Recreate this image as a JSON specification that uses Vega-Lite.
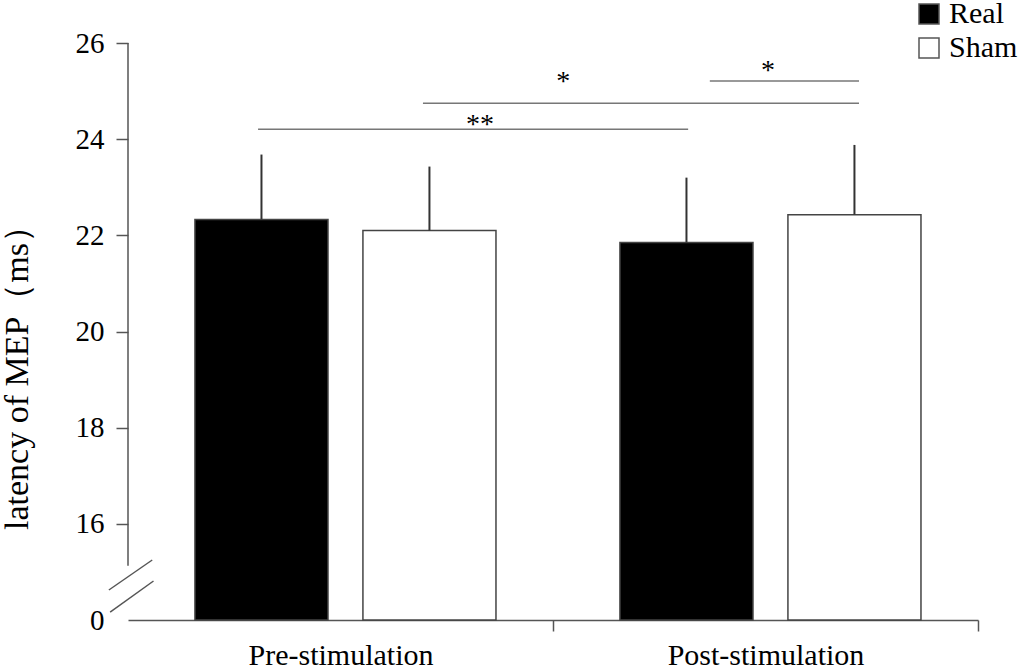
{
  "$schema": "https://vega.github.io/schema/vega-lite/v6.json",
  "width": 850,
  "height": 577,
  "autosize": {"type": "none"},
  "padding": {"left": 128, "top": 43, "right": 43, "bottom": 45},
  "config": {"font": "Liberation Serif", "view": {"stroke": null}},
  "datasets": {
    "bars": [
      {"group": "Pre-stimulation", "condition": "Real", "latency": 22.33, "upper": 23.68},
      {"group": "Pre-stimulation", "condition": "Sham", "latency": 22.1, "upper": 23.43},
      {"group": "Post-stimulation", "condition": "Real", "latency": 21.85, "upper": 23.2},
      {"group": "Post-stimulation", "condition": "Sham", "latency": 22.43, "upper": 23.88}
    ],
    "sigLines": [
      {"from": 0.306, "to": 1.318, "level": 24.205},
      {"from": 0.694, "to": 1.72, "level": 24.746},
      {"from": 1.369, "to": 1.72, "level": 25.21}
    ],
    "sigText": [
      {"pos": 0.828, "level": 24.13, "mark": "**"},
      {"pos": 1.024, "level": 25.02, "mark": "*"},
      {"pos": 1.506, "level": 25.25, "mark": "*"}
    ],
    "axisLine": [
      {"pos": 0, "from": 15.13, "to": 26}
    ],
    "breaks": [
      {"x1": -0.045, "x2": 0.057, "y1": 14.624, "y2": 15.248},
      {"x1": -0.042, "x2": 0.06, "y1": 14.166, "y2": 14.811}
    ]
  },
  "layer": [
    {
      "data": {"name": "bars"},
      "layer": [
        {
          "mark": {"type": "bar", "stroke": "#444444", "strokeWidth": 1.5},
          "encoding": {
            "x": {
              "field": "group", "type": "nominal",
              "sort": ["Pre-stimulation", "Post-stimulation"],
              "scale": {"paddingInner": 0, "paddingOuter": 0},
              "title": null,
              "axis": {
                "labelAngle": 0, "labelFontSize": 30, "labelColor": "#000000", "labelPadding": 9,
                "labelLimit": 0,
                "tickSize": 11, "tickBand": "extent",
                "tickColor": "#555555", "tickWidth": 1.5,
                "tickOpacity": {"condition": {"test": "isValid(datum.extra) || !isValid(datum.value)", "value": 0}, "value": 1},
                "domainColor": "#555555", "domainWidth": 1.5
              }
            },
            "xOffset": {
              "field": "condition", "type": "nominal", "sort": ["Real", "Sham"],
              "scale": {"paddingInner": 0.208, "paddingOuter": 0.369, "align": 0.54}
            },
            "y": {
              "field": "latency", "type": "quantitative",
              "scale": {"domain": [14, 26], "zero": false, "nice": false, "clamp": true},
              "title": "latency of MEP（ms）",
              "axis": {
                "values": [14, 16, 18, 20, 22, 24, 26],
                "labelExpr": "datum.value === 14 ? '0' : datum.label",
                "domain": false, "grid": false,
                "tickSize": 12, "tickColor": "#555555", "tickWidth": 1.5,
                "tickOpacity": {"condition": {"test": "datum.value === 14", "value": 0}, "value": 1},
                "labelFontSize": 29, "labelColor": "#000000", "labelPadding": 12,
                "titleFontSize": 34, "titleFontWeight": "normal", "titleColor": "#000000",
                "titlePadding": 41, "titleY": 326
              }
            },
            "color": {
              "field": "condition", "type": "nominal",
              "scale": {"domain": ["Real", "Sham"], "range": ["#000000", "#ffffff"]},
              "legend": {
                "title": null, "orient": "none", "legendX": 786, "legendY": -44,
                "symbolType": "square", "symbolSize": 400, "symbolStrokeColor": "#555555",
                "symbolStrokeWidth": 1.5, "labelFontSize": 30, "labelColor": "#000000",
                "labelOffset": 5, "rowPadding": 4, "padding": 0
              }
            }
          }
        },
        {
          "mark": {"type": "rule", "color": "#333333", "strokeWidth": 2},
          "encoding": {
            "x": {"field": "group", "type": "nominal", "sort": ["Pre-stimulation", "Post-stimulation"]},
            "xOffset": {"field": "condition", "type": "nominal", "sort": ["Real", "Sham"]},
            "y": {"field": "upper", "type": "quantitative"},
            "y2": {"field": "latency"}
          }
        }
      ]
    },
    {
      "layer": [
        {
          "data": {"name": "sigLines"},
          "mark": {"type": "rule", "color": "#777777", "strokeWidth": 1.5},
          "encoding": {
            "x": {"field": "from", "type": "quantitative", "scale": {"domain": [0, 2], "nice": false, "zero": false}, "axis": null},
            "x2": {"field": "to"},
            "y": {"field": "level", "type": "quantitative"}
          }
        },
        {
          "data": {"name": "sigText"},
          "mark": {"type": "text", "fontSize": 28, "baseline": "alphabetic", "align": "center", "color": "#000000"},
          "encoding": {
            "x": {"field": "pos", "type": "quantitative", "axis": null},
            "y": {"field": "level", "type": "quantitative"},
            "text": {"field": "mark"}
          }
        },
        {
          "data": {"name": "axisLine"},
          "mark": {"type": "rule", "color": "#555555", "strokeWidth": 1.5},
          "encoding": {
            "x": {"field": "pos", "type": "quantitative", "axis": null},
            "y": {"field": "from", "type": "quantitative"},
            "y2": {"field": "to"}
          }
        },
        {
          "data": {"name": "breaks"},
          "mark": {"type": "rule", "color": "#555555", "strokeWidth": 1.5},
          "encoding": {
            "x": {"field": "x1", "type": "quantitative", "axis": null},
            "x2": {"field": "x2"},
            "y": {"field": "y1", "type": "quantitative"},
            "y2": {"field": "y2"}
          }
        }
      ]
    }
  ],
  "resolve": {"scale": {"x": "independent"}}
}
